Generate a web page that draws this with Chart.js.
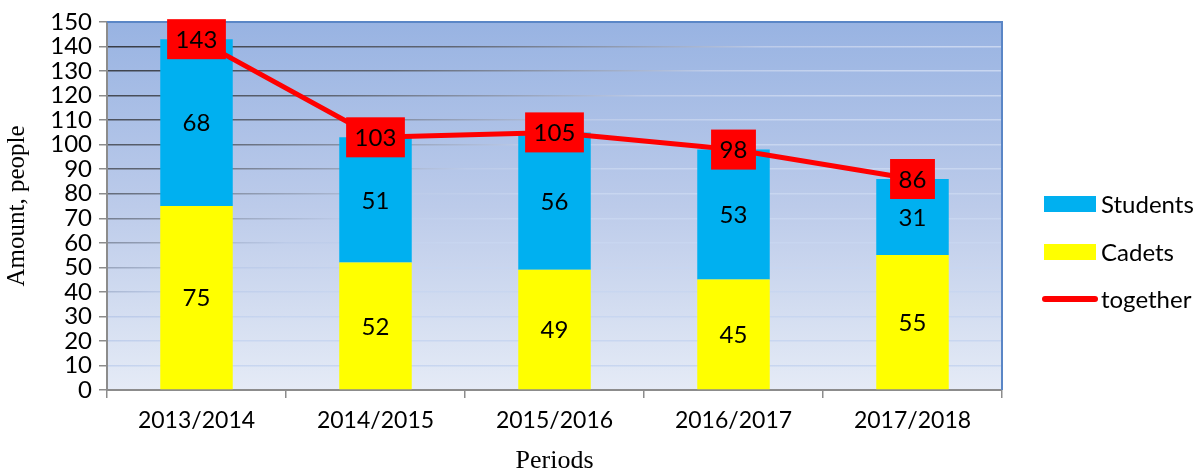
<!DOCTYPE html>
<html><head><meta charset="utf-8">
<script src="https://cdn.jsdelivr.net/npm/chart.js@4.4.0/dist/chart.umd.min.js"></script>
<style>html,body{margin:0;padding:0;background:#fff;overflow:hidden}#wrap{width:1200px;height:473px}</style>
</head><body><div id="wrap"><canvas id="c" width="1200" height="473"></canvas></div>
<script>
const categories = ['2013/2014','2014/2015','2015/2016','2016/2017','2017/2018'];
const cadets = [75, 52, 49, 45, 55];
const students = [68, 51, 56, 53, 31];
const together = [143, 103, 105, 98, 86];
const seriesNames = ['Students', 'Cadets', 'together'];
const yMin = 0, yMax = 150, yStep = 10;
const xTitle = 'Periods';
const yTitle = 'Amount, people';

const SANS = 'Lato';
const SERIF = 'Liberation Serif';
const COL_STUDENTS = '#00b0f0';
const COL_CADETS = '#ffff00';
const COL_LINE = '#ff0000';

function gridColor(ctx) {
  const chart = ctx.chart;
  const ca = chart.chartArea;
  if (!ca) return '#8090a8';
  const W = ca.right - ca.left, H = ca.bottom - ca.top;
  const S = 1 / (1 / (W * W) + 1 / (H * H));
  const g = chart.ctx.createLinearGradient(ca.left, ca.top, ca.left + S / W, ca.top + S / H);
  g.addColorStop(0, '#30343c');
  g.addColorStop(0.45, '#5f6674');
  g.addColorStop(0.8, '#bccbe9');
  g.addColorStop(1, '#c8d6f0');
  return g;
}

const bgPlugin = {
  id: 'bg',
  beforeDraw(chart) {
    const {ctx, chartArea: ca} = chart;
    const g = ctx.createLinearGradient(0, ca.top, 0, ca.bottom);
    g.addColorStop(0, '#98b3e2');
    g.addColorStop(0.5, '#bccbea');
    g.addColorStop(1, '#e5ebf6');
    ctx.save();
    ctx.fillStyle = g;
    ctx.fillRect(ca.left, ca.top, ca.right - ca.left, ca.bottom - ca.top);
    ctx.restore();
  },
  beforeDatasetsDraw(chart) {
    const {ctx, chartArea: ca} = chart;
    ctx.save();
    ctx.strokeStyle = '#5a86c6';
    ctx.lineWidth = 2;
    ctx.beginPath();
    ctx.moveTo(ca.left, ca.top);
    ctx.lineTo(ca.right, ca.top);
    ctx.lineTo(ca.right, ca.bottom);
    ctx.stroke();
    ctx.restore();
  }
};

const labelPlugin = {
  id: 'labels',
  afterDatasetsDraw(chart) {
    const ctx = chart.ctx;
    ctx.save();
    ctx.font = '24px ' + SANS;
    ctx.textAlign = 'center';
    ctx.textBaseline = 'middle';
    ctx.fillStyle = '#000';
    [0, 1].forEach(di => {
      const meta = chart.getDatasetMeta(di);
      const data = chart.data.datasets[di].data;
      meta.data.forEach((el, i) => {
        ctx.fillText(String(data[i]), el.x, (el.y + el.base) / 2 + 1);
      });
    });
    const lm = chart.getDatasetMeta(2);
    const ldata = chart.data.datasets[2].data;
    lm.data.forEach((pt, i) => {
      const t = String(ldata[i]);
      const w = ctx.measureText(t).width + 17;
      const h = 40;
      ctx.fillStyle = COL_LINE;
      ctx.fillRect(pt.x - w / 2, pt.y - h / 2, w, h);
      ctx.fillStyle = '#000';
      ctx.fillText(t, pt.x, pt.y + 1);
    });
    ctx.restore();
  }
};

const legendPlugin = {
  id: 'customLegend',
  afterDraw(chart) {
    const ctx = chart.ctx;
    const items = [
      {name: seriesNames[0], color: COL_STUDENTS, type: 'box', y: 204},
      {name: seriesNames[1], color: COL_CADETS, type: 'box', y: 252},
      {name: seriesNames[2], color: COL_LINE, type: 'line', y: 299}
    ];
    ctx.save();
    ctx.font = '24px ' + SANS;
    ctx.textBaseline = 'middle';
    ctx.textAlign = 'left';
    items.forEach(it => {
      if (it.type === 'box') {
        ctx.fillStyle = it.color;
        ctx.fillRect(1044, it.y - 8, 52, 16);
      } else {
        ctx.strokeStyle = it.color;
        ctx.lineWidth = 6;
        ctx.lineCap = 'round';
        ctx.beginPath();
        ctx.moveTo(1045, it.y);
        ctx.lineTo(1095, it.y);
        ctx.stroke();
      }
      ctx.fillStyle = '#000';
      ctx.fillText(it.name, 1101, it.y + 1);
    });
    ctx.restore();
  }
};

new Chart(document.getElementById('c'), {
  data: {
    labels: categories,
    datasets: [
      {type: 'bar', label: seriesNames[1], data: cadets, backgroundColor: COL_CADETS, order: 1,
       categoryPercentage: 1, barPercentage: 0.405},
      {type: 'bar', label: seriesNames[0], data: students, backgroundColor: COL_STUDENTS, order: 1,
       categoryPercentage: 1, barPercentage: 0.405},
      {type: 'line', label: seriesNames[2], data: together, borderColor: COL_LINE, borderWidth: 5,
       pointRadius: 0, tension: 0, order: 0, fill: false}
    ]
  },
  options: {
    responsive: false,
    animation: false,
    devicePixelRatio: 1,
    layout: {padding: {top: 22, right: 198, left: 0, bottom: 0}},
    plugins: {legend: {display: false}, tooltip: {enabled: false}},
    scales: {
      x: {
        stacked: true,
        offset: true,
        grid: {drawOnChartArea: false, offset: true, tickLength: 8, color: '#8c8c8c', lineWidth: 1.5},
        border: {color: '#8c8c8c', width: 2},
        ticks: {font: {family: SANS, size: 23}, color: '#000', padding: 9, maxRotation: 0, autoSkip: false},
        title: {display: true, text: xTitle, font: {family: SERIF, size: 26}, color: '#000', padding: {top: 0, bottom: -4}},
        afterFit(s) { s.height = 83; }
      },
      y: {
        stacked: true,
        min: yMin, max: yMax,
        ticks: {stepSize: yStep, font: {family: SANS, size: 24, lineHeight: 1}, color: '#000', padding: 7, autoSkip: false},
        grid: {color: gridColor, lineWidth: 1.5, tickLength: 8, tickColor: '#8c8c8c', tickWidth: 1.5},
        border: {color: '#8c8c8c', width: 2},
        title: {display: true, text: yTitle, font: {family: SERIF, size: 25}, color: '#000', padding: {top: 2, bottom: 0}},
        afterFit(s) { s.width = 107; }
      }
    }
  },
  plugins: [bgPlugin, labelPlugin, legendPlugin]
});
</script>
</body></html>
